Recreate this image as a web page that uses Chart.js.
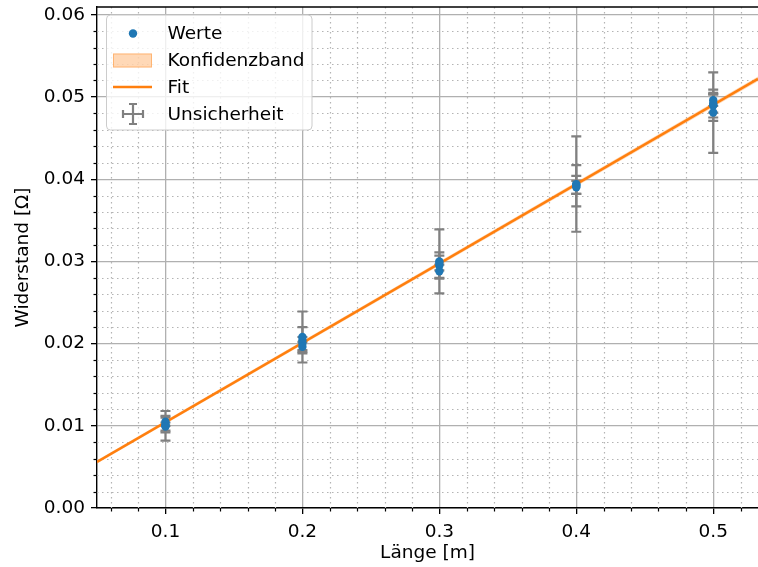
<!DOCTYPE html>
<html>
<head>
<meta charset="utf-8">
<script src="https://cdn.jsdelivr.net/npm/chart.js@4"></script>
<style>
  body { margin: 0; background: #fff; }
  canvas { display: block; }
</style>
</head>
<body>
<canvas id="myChart" width="758" height="567"></canvas>
<script>
// Messwerte (Länge in m, Widerstand in Ohm)
const lengths = [0.1, 0.1, 0.1, 0.1,
                 0.2, 0.2, 0.2, 0.2,
                 0.3, 0.3, 0.3, 0.3,
                 0.4, 0.4, 0.4, 0.4,
                 0.5, 0.5, 0.5, 0.5, 0.5];
const resistances = [0.0100, 0.0102, 0.0105, 0.0099,
                     0.0208, 0.0204, 0.0200, 0.0196,
                     0.0300, 0.0295, 0.0298, 0.0288,
                     0.0394, 0.0392, 0.0393, 0.0390,
                     0.0481, 0.0490, 0.0490, 0.0496, 0.0492];
const uncertainties = [0.0018, 0.0010, 0.0005, 0.0005,
                       0.0031, 0.0016, 0.0008, 0.0006,
                       0.0039, 0.0016, 0.0009, 0.0008,
                       0.0058, 0.0025, 0.0011, 0.0008,
                       0.0049, 0.0019, 0.0015, 0.0007, 0.0011];

// Fit-Gerade und Konfidenzband (Endpunkte)
const fitX = [0.05, 0.5327];
const fitY = [0.0056, 0.0522];
const bandLow = [0.0054, 0.0519];
const bandHigh = [0.0058, 0.0525];

// Achsen
const xMajorTicks = [0.1, 0.2, 0.3, 0.4, 0.5];
const xMinorTicks = [0.06, 0.08, 0.12, 0.14, 0.16, 0.18, 0.22, 0.24, 0.26, 0.28,
                     0.32, 0.34, 0.36, 0.38, 0.42, 0.44, 0.46, 0.48, 0.52];
const yMajorTicks = [0, 0.01, 0.02, 0.03, 0.04, 0.05, 0.06];
const yMinorTicks = [0.002, 0.004, 0.006, 0.008, 0.012, 0.014, 0.016, 0.018,
                     0.022, 0.024, 0.026, 0.028, 0.032, 0.034, 0.036, 0.038,
                     0.042, 0.044, 0.046, 0.048, 0.052, 0.054, 0.056, 0.058];

const FONT = 'DejaVu Sans';
const FS = 18.5;
const blue = '#1f77b4';
const orange = '#ff7f0e';
const gray = '#808080';

// minor grid + minor tick marks
const minorGrid = {
    id: 'minorGrid',
    beforeDatasetsDraw(chart) {
        const { ctx, chartArea: a, scales: { x, y } } = chart;
        ctx.save();
        ctx.strokeStyle = '#b4b4b4';
        ctx.lineWidth = 1.2;
        ctx.setLineDash([1.5, 3.5]);
        xMinorTicks.forEach(v => {
            const px = Math.round(x.getPixelForValue(v)) + 0.5;
            ctx.beginPath(); ctx.moveTo(px, a.top); ctx.lineTo(px, a.bottom); ctx.stroke();
        });
        yMinorTicks.forEach(v => {
            const py = Math.round(y.getPixelForValue(v)) + 0.5;
            ctx.beginPath(); ctx.moveTo(a.left, py); ctx.lineTo(a.right, py); ctx.stroke();
        });
        ctx.setLineDash([]);
        ctx.strokeStyle = '#000';
        ctx.lineWidth = 1.2;
        xMinorTicks.forEach(v => {
            const px = Math.round(x.getPixelForValue(v)) + 0.5;
            ctx.beginPath(); ctx.moveTo(px, a.bottom); ctx.lineTo(px, a.bottom + 3.5); ctx.stroke();
        });
        yMinorTicks.forEach(v => {
            const py = Math.round(y.getPixelForValue(v)) + 0.5;
            ctx.beginPath(); ctx.moveTo(a.left, py); ctx.lineTo(a.left - 3.5, py); ctx.stroke();
        });
        ctx.restore();
    }
};

// error bars from the data arrays
const errorBars = {
    id: 'errorBars',
    beforeDatasetsDraw(chart) {
        const { ctx, chartArea: a, scales: { x, y } } = chart;
        ctx.save();
        ctx.beginPath();
        ctx.rect(a.left, a.top, a.right - a.left, a.bottom - a.top);
        ctx.clip();
        ctx.strokeStyle = gray;
        ctx.lineWidth = 2.2;
        lengths.forEach((lx, i) => {
            const px = x.getPixelForValue(lx);
            const top = y.getPixelForValue(resistances[i] + uncertainties[i]);
            const bot = y.getPixelForValue(resistances[i] - uncertainties[i]);
            ctx.beginPath();
            ctx.moveTo(px, top); ctx.lineTo(px, bot);
            ctx.moveTo(px - 5, top); ctx.lineTo(px + 5, top);
            ctx.moveTo(px - 5, bot); ctx.lineTo(px + 5, bot);
            ctx.stroke();
        });
        ctx.restore();
    }
};

// top spine and legend box
const frameAndLegend = {
    id: 'frameAndLegend',
    afterDraw(chart) {
        const { ctx, chartArea: a } = chart;
        ctx.save();
        ctx.strokeStyle = '#000';
        ctx.lineWidth = 1.4;
        ctx.beginPath(); ctx.moveTo(a.left, a.top); ctx.lineTo(a.right, a.top); ctx.stroke();

        // legend
        const bx = 106.5, by = 15, bw = 205.5, bh = 115;
        ctx.beginPath();
        ctx.roundRect(bx, by, bw, bh, 4);
        ctx.fillStyle = 'rgba(255,255,255,0.8)';
        ctx.fill();
        ctx.strokeStyle = '#cccccc';
        ctx.lineWidth = 1;
        ctx.stroke();

        const rows = [33.5, 60.5, 87, 114];
        const labels = ['Werte', 'Konfidenzband', 'Fit', 'Unsicherheit'];

        ctx.fillStyle = blue;
        ctx.beginPath(); ctx.arc(133, rows[0], 4.2, 0, Math.PI * 2); ctx.fill();

        ctx.fillStyle = 'rgba(255,127,14,0.3)';
        ctx.fillRect(113, rows[1] - 7, 39, 14);
        ctx.strokeStyle = 'rgba(255,127,14,0.4)';
        ctx.lineWidth = 1;
        ctx.strokeRect(113.5, rows[1] - 6.5, 38, 13);

        ctx.strokeStyle = orange;
        ctx.lineWidth = 2.5;
        ctx.beginPath(); ctx.moveTo(113, rows[2]); ctx.lineTo(152, rows[2]); ctx.stroke();

        ctx.strokeStyle = gray;
        ctx.lineWidth = 2.2;
        const cy = rows[3];
        ctx.beginPath();
        ctx.moveTo(123, cy); ctx.lineTo(143, cy);
        ctx.moveTo(123, cy - 4); ctx.lineTo(123, cy + 4);
        ctx.moveTo(143, cy - 4); ctx.lineTo(143, cy + 4);
        ctx.moveTo(133, cy - 10); ctx.lineTo(133, cy + 10);
        ctx.moveTo(129, cy - 10); ctx.lineTo(137, cy - 10);
        ctx.moveTo(129, cy + 10); ctx.lineTo(137, cy + 10);
        ctx.stroke();

        ctx.fillStyle = '#000';
        ctx.font = `${FS}px "${FONT}"`;
        ctx.textBaseline = 'middle';
        ctx.textAlign = 'left';
        labels.forEach((t, i) => ctx.fillText(t, 167.5, rows[i] + 1));
        ctx.restore();
    }
};

const ctx = document.getElementById('myChart');

new Chart(ctx, {
    type: 'scatter',
    data: {
        datasets: [
            {
                label: 'Werte',
                data: lengths.map((lx, i) => ({ x: lx, y: resistances[i] })),
                backgroundColor: blue,
                borderWidth: 0,
                pointRadius: 4.2,
                order: 0
            },
            {
                label: 'Band unten',
                type: 'line',
                data: fitX.map((fx, i) => ({ x: fx, y: bandLow[i] })),
                borderWidth: 0,
                pointRadius: 0,
                fill: false,
                order: 3
            },
            {
                label: 'Konfidenzband',
                type: 'line',
                data: fitX.map((fx, i) => ({ x: fx, y: bandHigh[i] })),
                borderWidth: 0,
                pointRadius: 0,
                backgroundColor: 'rgba(255,127,14,0.3)',
                fill: '-1',
                order: 2
            },
            {
                label: 'Fit',
                type: 'line',
                data: fitX.map((fx, i) => ({ x: fx, y: fitY[i] })),
                borderColor: orange,
                borderWidth: 2.5,
                pointRadius: 0,
                fill: false,
                order: 1
            }
        ]
    },
    options: {
        responsive: false,
        animation: false,
        devicePixelRatio: 1,
        layout: { autoPadding: false, padding: { top: 7, right: 0, left: 0, bottom: 0 } },
        plugins: {
            legend: { display: false },
            tooltip: { enabled: false }
        },
        scales: {
            x: {
                type: 'linear',
                min: 0.05,
                max: 0.5327,
                afterBuildTicks: scale => { scale.ticks = xMajorTicks.map(v => ({ value: v })); },
                afterFit: scale => {
                    scale.height = 59;
                    scale.paddingLeft = 0;
                    scale.paddingRight = 0;
                },
                grid: { color: '#b0b0b0', lineWidth: 1.3, tickColor: '#000', tickLength: 6, tickWidth: 1.3 },
                border: { color: '#000', width: 1.4 },
                ticks: {
                    color: '#000',
                    padding: 7,
                    maxRotation: 0,
                    font: { family: FONT, size: FS },
                    callback: v => v.toFixed(1)
                },
                title: {
                    display: true,
                    text: 'Länge [m]',
                    color: '#000',
                    font: { family: FONT, size: FS },
                    padding: { top: 0, bottom: 3 }
                }
            },
            y: {
                type: 'linear',
                min: 0,
                max: 0.06094,
                afterBuildTicks: scale => { scale.ticks = yMajorTicks.map(v => ({ value: v })); },
                afterFit: scale => {
                    scale.width = 97;
                    scale.paddingTop = 0;
                    scale.paddingBottom = 0;
                },
                grid: { color: '#b0b0b0', lineWidth: 1.3, tickColor: '#000', tickLength: 6, tickWidth: 1.3 },
                border: { color: '#000', width: 1.4 },
                ticks: {
                    color: '#000',
                    padding: 6,
                    font: { family: FONT, size: FS },
                    callback: v => v.toFixed(2)
                },
                title: {
                    display: true,
                    text: 'Widerstand [Ω]',
                    color: '#000',
                    font: { family: FONT, size: FS },
                    padding: { top: 12, bottom: 0 }
                }
            }
        }
    },
    plugins: [minorGrid, errorBars, frameAndLegend]
});
</script>
</body>
</html>
